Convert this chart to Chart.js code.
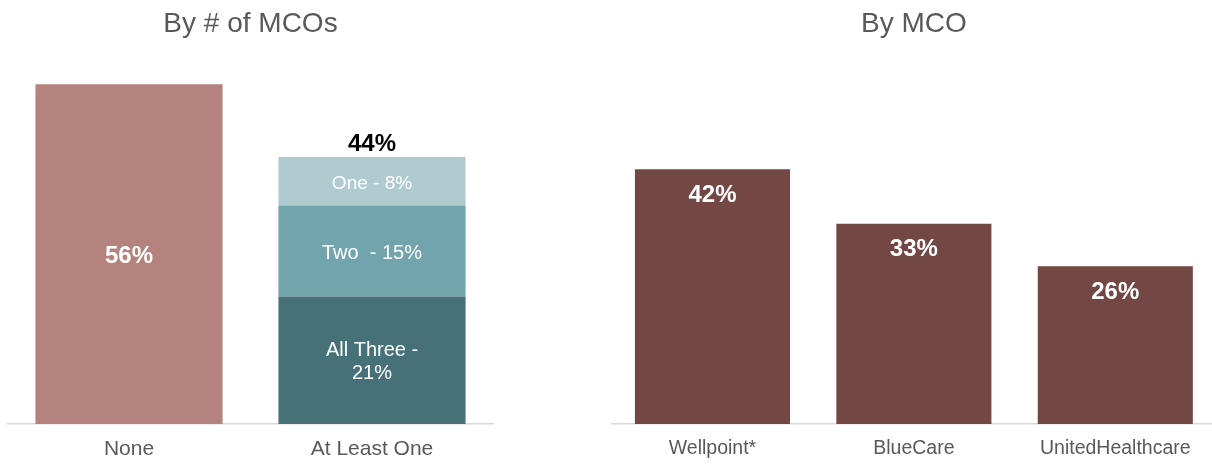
<!DOCTYPE html>
<html>
<head>
<meta charset="utf-8">
<script src="https://cdn.jsdelivr.net/npm/chart.js@4.4.1/dist/chart.umd.min.js"></script>
<style>
  html, body { margin: 0; padding: 0; background: #fff; overflow: hidden; width: 1212px; height: 464px; }
  #left { position: absolute; left: 0; top: 0; width: 501px; height: 464px; }
  #right { position: absolute; left: 600px; top: 0; width: 616px; height: 464px; }
</style>
</head>
<body>
<div id="left"><canvas id="byCount"></canvas></div>
<div id="right"><canvas id="byMco"></canvas></div>
<script>
// data
const countCategories = ['None', 'At Least One'];
const noneValues = [56, null];
const allThreeValues = [null, 21];
const twoValues = [null, 15];
const oneValues = [null, 8];
const allThreeText = ['All Three -', '21%'];
const twoText = ['Two  - 15%'];
const oneText = ['One - 8%'];

const mcoCategories = ['Wellpoint*', 'BlueCare', 'UnitedHealthcare'];
const mcoValues = [42, 33, 26];

const FONT = "'Liberation Sans', Arial, sans-serif";
const GREY = '#595959';

Chart.defaults.font.family = FONT;

// labels drawn inside the bars
const insideLabels = {
    id: 'insideLabels',
    afterDatasetsDraw(chart) {
        const ctx = chart.ctx;
        ctx.save();
        ctx.textAlign = 'center';
        ctx.textBaseline = 'middle';
        ctx.fillStyle = '#fff';
        chart.data.datasets.forEach((ds, i) => {
            const meta = chart.getDatasetMeta(i);
            meta.data.forEach((bar, j) => {
                const v = ds.data[j];
                if (v == null) return;
                const lines = ds.textLines || [v + '%'];
                ctx.font = ds.textFont || ('bold 24px ' + FONT);
                let cy = ds.textTop ? bar.y + 26 : (bar.y + bar.base) / 2 + 2;
                const lh = 23;
                cy -= (lines.length - 1) * lh / 2;
                lines.forEach((t, k) => ctx.fillText(t, bar.x, cy + k * lh));
            });
        });
        ctx.restore();
    }
};

// total above the stacked bar
const stackTotal = {
    id: 'stackTotal',
    afterDatasetsDraw(chart) {
        const idx = 1;
        let total = 0;
        chart.data.datasets.forEach(ds => { if (ds.data[idx] != null) total += ds.data[idx]; });
        const x = chart.scales.x.getPixelForValue(idx);
        const y = chart.scales.y.getPixelForValue(total);
        const ctx = chart.ctx;
        ctx.save();
        ctx.font = 'bold 24px ' + FONT;
        ctx.fillStyle = '#000';
        ctx.textAlign = 'center';
        ctx.textBaseline = 'middle';
        ctx.fillText(total + '%', x, y - 13);
        ctx.restore();
    }
};

function baseOptions(title, padLeft, padRight, tickSize) {
    return {
        responsive: true,
        maintainAspectRatio: false,
        animation: false,
        layout: { padding: { left: padLeft, right: padRight, top: 0, bottom: 0 } },
        plugins: {
            legend: { display: false },
            tooltip: { enabled: false },
            title: {
                display: true,
                text: title,
                color: GREY,
                font: { size: 28, weight: 'normal' },
                padding: { top: 7, bottom: 19.4 }
            }
        },
        scales: {
            x: {
                stacked: true,
                grid: { display: false, drawTicks: false },
                border: { color: '#d9d9d9', width: 1.5 },
                ticks: { color: GREY, font: { size: tickSize }, padding: 13 },
                afterFit: s => { s.height = 40; }
            },
            y: { stacked: true, display: false, min: 0, max: 60 }
        }
    };
}

new Chart(document.getElementById('byCount'), {
    type: 'bar',
    data: {
        labels: countCategories,
        datasets: [
            { label: 'None', data: noneValues, backgroundColor: '#b5837e' },
            { label: 'All Three', data: allThreeValues, backgroundColor: '#477178',
              textLines: allThreeText, textFont: '20px ' + FONT },
            { label: 'Two', data: twoValues, backgroundColor: '#71a4ad',
              textLines: twoText, textFont: '20px ' + FONT },
            { label: 'One', data: oneValues, backgroundColor: '#afcbcf',
              textLines: oneText, textFont: '19px ' + FONT }
        ].map(d => Object.assign(d, { barPercentage: 0.77, categoryPercentage: 1 }))
    },
    options: baseOptions('By # of MCOs', 7.5, 7.5, 21),
    plugins: [insideLabels, stackTotal]
});

new Chart(document.getElementById('byMco'), {
    type: 'bar',
    data: {
        labels: mcoCategories,
        datasets: [{
            label: 'By MCO',
            data: mcoValues,
            backgroundColor: '#734744',
            barPercentage: 0.77,
            categoryPercentage: 1,
            textTop: true
        }]
    },
    options: baseOptions('By MCO', 11.75, 0, 19.5),
    plugins: [insideLabels]
});
</script>
</body>
</html>
